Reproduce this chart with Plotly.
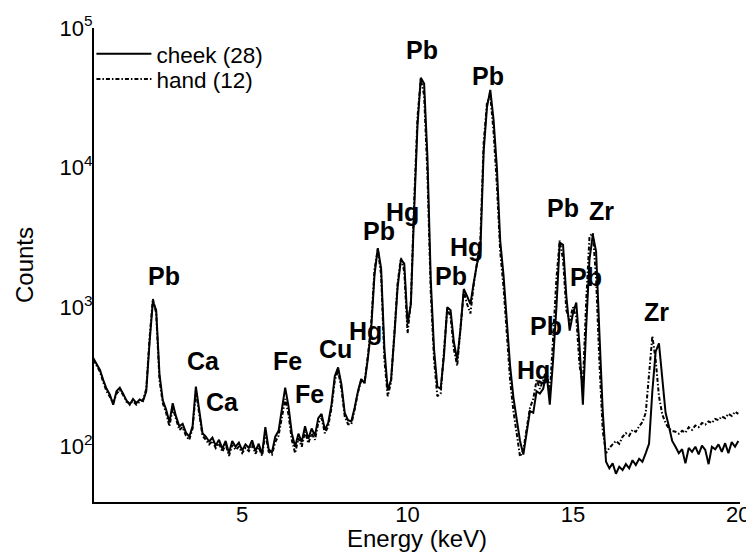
import numpy as np
import plotly.graph_objects as go

# Energy channels (keV), 0.1 keV spacing
energy_kev = np.round(np.arange(0.5, 20.05, 0.1), 2)

cheek_counts = [
    430, 390, 355, 300, 260, 236, 200, 250, 265, 240,      # 0.5-1.4
    215, 200, 220, 205, 218, 212, 250, 560, 1100, 950,     # 1.5-2.4
    330, 215, 185, 150, 205, 165, 140, 146, 126, 118,      # 2.5-3.4
    140, 270, 180, 125, 118, 109, 116, 102, 112, 97,       # 3.5-4.4
    110, 90, 110, 100, 107, 94, 104, 98, 111, 93,          # 4.5-5.4
    105, 88, 138, 96, 91, 118, 130, 190, 265, 195,         # 5.5-6.4
    125, 100, 124, 108, 140, 114, 135, 120, 160, 172,      # 6.5-7.4
    132, 148, 200, 320, 370, 280, 175, 155, 152, 190,      # 7.5-8.4
    250, 305, 285, 430, 700, 1700, 2650, 1900, 500, 255,   # 8.5-9.4
    300, 620, 1400, 2200, 2050, 760, 1050, 5000, 20000, 44000,   # 9.5-10.4
    40000, 12000, 1590, 500, 270, 260, 450, 1000, 950, 560,      # 10.5-11.4
    420, 700, 1350, 1200, 1050, 1500, 2050, 2500, 13000, 27000,  # 11.5-12.4
    36000, 22000, 10000, 3000, 1700, 800, 380, 225, 160, 110,    # 12.5-13.4
    88, 130, 180, 175, 250, 240, 260, 340, 200, 420,       # 13.5-14.4
    1000, 2900, 2800, 1200, 680, 900, 1080, 520, 200, 720, # 14.5-15.4
    2200, 3300, 2500, 650, 180, 78, 70, 76, 64, 72,        # 15.5-16.4
    68, 75, 70, 80, 74, 82, 78, 90, 105, 250,              # 16.5-17.4
    480, 550, 310, 175, 140, 110, 100, 90, 96, 76,         # 17.5-18.4
    98, 92, 100, 88, 102, 95, 75, 100, 96, 104,            # 18.5-19.4
    92, 106, 90, 108, 100, 110,                            # 19.5-20.0
]

hand_counts = [
    420, 380, 345, 290, 250, 228, 205, 240, 255, 235,      # 0.5-1.4
    210, 205, 212, 200, 210, 215, 260, 600, 1150, 900,     # 1.5-2.4
    300, 205, 175, 140, 190, 158, 132, 138, 120, 112,      # 2.5-3.4
    135, 250, 170, 120, 112, 104, 110, 98, 106, 92,        # 3.5-4.4
    104, 86, 103, 95, 100, 90, 98, 93, 104, 89,            # 4.5-5.4
    99, 86, 125, 92, 88, 108, 120, 165, 220, 170,          # 5.5-6.4
    112, 90, 115, 100, 128, 106, 124, 112, 148, 160,       # 6.5-7.4
    125, 140, 190, 300, 350, 260, 165, 145, 145, 185,      # 7.5-8.4
    245, 300, 290, 450, 760, 1850, 2600, 1700, 420, 230,   # 8.5-9.4
    290, 650, 1500, 2250, 1800, 650, 1100, 5800, 23000, 43000,   # 9.5-10.4
    33000, 9000, 1300, 420, 230, 240, 480, 980, 850, 500,        # 10.5-11.4
    380, 680, 1300, 1050, 900, 1450, 2100, 3000, 15000, 29000,   # 11.5-12.4
    33000, 18000, 7500, 2500, 1400, 650, 300, 180, 120, 85,      # 12.5-13.4
    95, 140, 190, 220, 300, 260, 300, 360, 240, 600,       # 13.5-14.4
    1600, 3000, 2200, 950, 800, 1000, 850, 380, 280, 1100, # 14.5-15.4
    3200, 3400, 1600, 400, 130, 90, 98, 104, 110, 105,     # 15.5-16.4
    118, 125, 120, 132, 128, 140, 150, 175, 330, 620,      # 16.5-17.4
    420, 230, 170, 148, 135, 130, 128, 124, 130, 126,      # 17.5-18.4
    138, 132, 142, 138, 148, 144, 152, 148, 158, 155,      # 18.5-19.4
    165, 160, 172, 166, 178, 172,                          # 19.5-20.0
]

# Peak labels: (text, energy keV, counts)
label_text = ["Pb", "Ca", "Ca", "Fe", "Fe", "Cu", "Hg", "Pb", "Hg", "Pb",
              "Pb", "Hg", "Pb", "Hg", "Pb", "Pb", "Zr", "Pb", "Zr"]
label_energy = [2.64, 3.82, 4.39, 6.36, 7.03, 7.82, 8.73, 9.15, 9.85, 10.45,
                12.42, 11.79, 11.30, 13.82, 14.18, 14.70, 15.85, 15.39, 17.52]
label_counts = [1660, 409, 210, 409, 237, 500, 673, 3530, 4800, 70000,
                45000, 2700, 1660, 357, 730, 5100, 4900, 1650, 920]

ytick_vals = [100, 1000, 10000, 100000]
ytick_text = ["10<sup>2</sup>", "10<sup>3</sup>", "10<sup>4</sup>", "10<sup>5</sup>"]
xtick_vals = [5, 10, 15, 20]

FONT = "Liberation Sans, Arial, sans-serif"

fig = go.Figure()
fig.add_trace(go.Scatter(x=energy_kev, y=cheek_counts, mode="lines", name="cheek (28)",
                         line=dict(color="black", width=2), legend="legend"))
fig.add_trace(go.Scatter(x=energy_kev, y=hand_counts, mode="lines", name="hand (12)",
                         line=dict(color="black", width=2, dash="4px,2px,1.5px,2px"),
                         legend="legend2"))

for t, e, c in zip(label_text, label_energy, label_counts):
    fig.add_annotation(x=e, y=np.log10(c), text=f"<b>{t}</b>", showarrow=False,
                       font=dict(family=FONT, size=25, color="black"))

leg_common = dict(x=-0.004, xanchor="left", yanchor="top", bgcolor="rgba(0,0,0,0)",
                  font=dict(family=FONT, size=22.5, color="black"), itemwidth=55)

# page body has an 8px margin: figure is drawn at (8, 8) in the window
fig.update_layout(
    width=746, height=544,
    margin=dict(l=86, r=14, t=20, b=50),
    paper_bgcolor="white", plot_bgcolor="white",
    font=dict(family=FONT, size=21, color="black"),
    showlegend=True,
    legend=dict(y=0.99, **leg_common),
    legend2=dict(y=0.937, **leg_common),
)
fig.update_xaxes(range=[0.52, 20.05], tickvals=xtick_vals, ticks="", showline=True,
                 linecolor="black", linewidth=2, showgrid=False, zeroline=False,
                 automargin=False, ticklabelstandoff=-8,
                 title=dict(text="Energy (keV)", standoff=16,
                            font=dict(family=FONT, size=24, color="black")),
                 tickfont=dict(family=FONT, size=22, color="black"))
fig.update_yaxes(type="log", range=[1.604, 5.0], tickvals=ytick_vals, ticktext=ytick_text,
                 ticks="", showline=True, linecolor="black", linewidth=2, showgrid=False,
                 zeroline=False, automargin=False, ticklabelstandoff=-5,
                 title=dict(text="Counts", standoff=19,
                            font=dict(family=FONT, size=24, color="black")),
                 tickfont=dict(family=FONT, size=22, color="black"))

fig.write_html("out.html")
